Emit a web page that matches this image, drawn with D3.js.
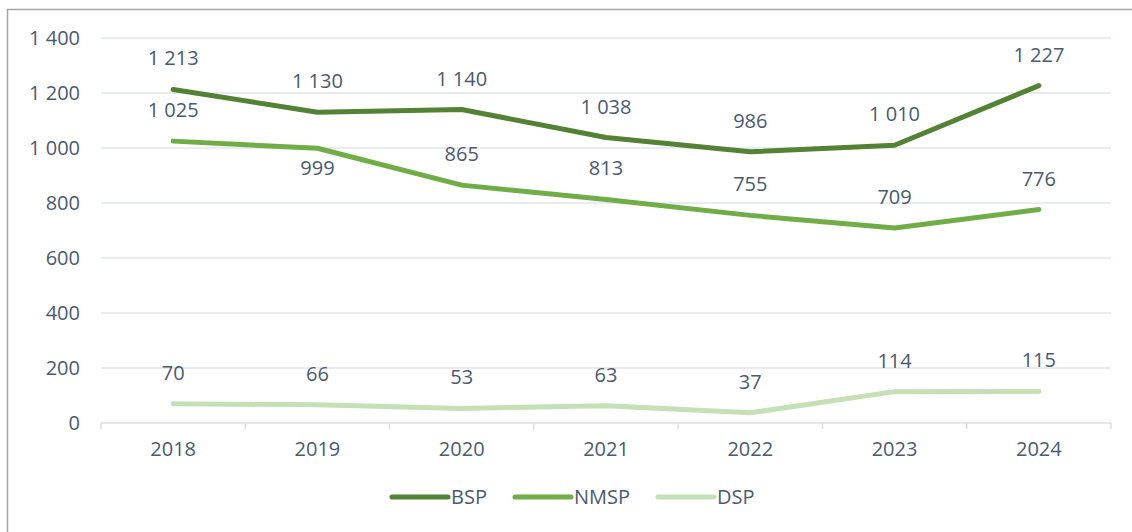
<!DOCTYPE html>
<html>
<head>
<meta charset="utf-8">
<script src="https://cdn.jsdelivr.net/npm/d3@7"></script>
<style>
  body { margin: 0; background: #fff; }
  text { font-family: "Open Sans", sans-serif; fill: #4a5a70; font-weight: 400; }
</style>
</head>
<body>
<div id="chart"></div>
<script>
var years = ["2018", "2019", "2020", "2021", "2022", "2023", "2024"];
var bsp = [1213, 1130, 1140, 1038, 986, 1010, 1227];
var nmsp = [1025, 999, 865, 813, 755, 709, 776];
var dsp = [70, 66, 53, 63, 37, 114, 115];
var yTicks = [0, 200, 400, 600, 800, 1000, 1200, 1400];

var series = [
  { name: "BSP", values: bsp, color: "#548235" },
  { name: "NMSP", values: nmsp, color: "#70ad47" },
  { name: "DSP", values: dsp, color: "#c5e0b4" }
];

// NMSP label goes below the point where it would collide with BSP
var labelBelow = { NMSP: { "2019": true } };

var W = 1132, H = 532;
var margin = {top: 38, right: 21, bottom: 109, left: 101};
var width = W - margin.left - margin.right,
    height = H - margin.top - margin.bottom;

var fmt = function(v) {
  return d3.format(",")(v).replace(/,/g, "\u00a0");
};

var svg = d3.select("#chart").append("svg")
    .attr("width", W)
    .attr("height", H);

// outer frame (only top and left visible)
svg.append("path")
    .attr("d", "M7.5," + H + "V9.5H" + W)
    .attr("fill", "none")
    .attr("stroke", "#a6a6a6")
    .attr("stroke-width", 1.5);

var g = svg.append("g")
    .attr("transform", "translate(" + margin.left + "," + margin.top + ")");

var x = d3.scaleBand().domain(years).range([0, width]);
var y = d3.scaleLinear().domain([0, 1400]).range([height, 0]);

// gridlines
g.append("g")
    .selectAll("line")
    .data(yTicks.filter(function(d) { return d > 0; }))
    .enter().append("line")
    .attr("x1", 0).attr("x2", width)
    .attr("y1", function(d) { return y(d); })
    .attr("y2", function(d) { return y(d); })
    .attr("stroke", "#e1e5eb")
    .attr("stroke-width", 1.5);

// y axis labels
g.append("g")
    .selectAll("text")
    .data(yTicks)
    .enter().append("text")
    .attr("x", -21)
    .attr("y", function(d) { return y(d); })
    .attr("dy", "0.35em")
    .attr("text-anchor", "end")
    .style("font-size", "20px")
    .text(fmt);

// x axis
var xAxis = g.append("g")
    .attr("transform", "translate(0," + height + ")");
xAxis.append("line")
    .attr("x1", 0).attr("x2", width)
    .attr("stroke", "#d9dde3").attr("stroke-width", 1.5);
xAxis.selectAll(".tk")
    .data(d3.range(years.length + 1))
    .enter().append("line")
    .attr("class", "tk")
    .attr("x1", function(i) { return i * x.bandwidth(); })
    .attr("x2", function(i) { return i * x.bandwidth(); })
    .attr("y1", 0).attr("y2", 6)
    .attr("stroke", "#d9dde3").attr("stroke-width", 1.5);
xAxis.selectAll("text")
    .data(years)
    .enter().append("text")
    .attr("x", function(d) { return x(d) + x.bandwidth() / 2; })
    .attr("y", 26)
    .attr("dy", "0.35em")
    .attr("text-anchor", "middle")
    .style("font-size", "20px")
    .text(function(d) { return d; });

var line = d3.line()
    .x(function(d, i) { return x(years[i]) + x.bandwidth() / 2; })
    .y(function(d) { return y(d); });

series.forEach(function(s) {
  g.append("path")
      .datum(s.values)
      .attr("fill", "none")
      .attr("stroke", s.color)
      .attr("stroke-width", 5)
      .attr("stroke-linecap", "round")
      .attr("stroke-linejoin", "round")
      .attr("d", line);

  g.append("g")
      .selectAll("text")
      .data(s.values)
      .enter().append("text")
      .attr("x", function(d, i) { return x(years[i]) + x.bandwidth() / 2; })
      .attr("y", function(d, i) {
        var below = labelBelow[s.name] && labelBelow[s.name][years[i]];
        return below ? y(d) + 20 : y(d) - 31;
      })
      .attr("dy", "0.35em")
      .attr("text-anchor", "middle")
      .style("font-size", "20px")
      .text(fmt);
});

// legend
var legendX = [392, 515, 658];
var legend = svg.append("g");
series.forEach(function(s, i) {
  legend.append("line")
      .attr("x1", legendX[i]).attr("x2", legendX[i] + 56)
      .attr("y1", 497).attr("y2", 497)
      .attr("stroke", s.color)
      .attr("stroke-width", 5)
      .attr("stroke-linecap", "round");
  legend.append("text")
      .attr("x", legendX[i] + 59)
      .attr("y", 497)
      .attr("dy", "0.35em")
      .style("font-size", "20px")
      .text(s.name);
});
</script>
</body>
</html>
